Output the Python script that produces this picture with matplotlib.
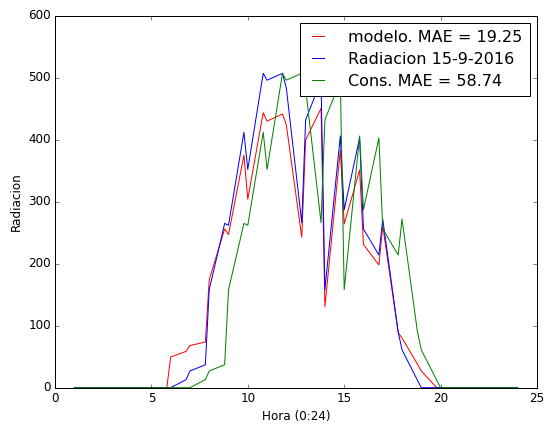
import matplotlib
matplotlib.use("Agg")
import matplotlib.pyplot as plt

plt.style.use("classic")

# Hour of day for each sample
hora = [1, 2, 3, 4, 5, 5.8, 6, 6.8, 7, 7.8, 8, 8.8, 9, 9.8, 10, 10.8, 11,
        11.8, 12, 12.8, 13, 13.8, 14, 14.8, 15, 15.8, 16, 16.8, 17, 17.8,
        18, 18.8, 19, 19.8, 20, 21, 22, 23, 24]

# Model prediction
modelo = [0, 0, 0, 0, 0, 0, 49.5, 58.6, 68, 73.6, 174, 256, 247, 375, 304,
          443.5, 430, 441.5, 423.7, 242.6, 399.5, 450.6, 130.6, 383, 264,
          351, 231, 198, 261, 89, 80, 38, 27, 0, 0, 0, 0, 0, 0]

# Measured radiation
radiacion = [0, 0, 0, 0, 0, 0, 0, 13, 27, 37, 158, 265, 262, 412, 352, 507,
             496, 507, 483, 266, 432, 495, 158, 406, 287, 403, 256, 214, 272,
             90, 61, 12, 0, 0, 0, 0, 0, 0, 0]

# Persistence forecast
cons = [0, 0, 0, 0, 0, 0, 0, 0, 0, 13, 27, 37, 158, 265, 262, 412, 352, 507,
        496, 507, 483, 266, 432, 495, 158, 406, 287, 403, 256, 214, 272, 90,
        61, 12, 0, 0, 0, 0, 0]

labels = ["modelo. MAE = 19.25", "Radiacion 15-9-2016", "Cons. MAE = 58.74"]

fig = plt.figure(figsize=(546 / 72, 430 / 72), dpi=72, facecolor="white")
ax = fig.add_axes([0.1007, 0.0984, 0.8828, 0.8651])

ax.plot(hora, modelo, color="r", lw=1.0, label=labels[0])
ax.plot(hora, radiacion, color="b", lw=1.0, label=labels[1])
ax.plot(hora, cons, color="g", lw=1.0, label=labels[2])

ax.set_xlim(0, 25)
ax.set_ylim(0, 600)
ax.set_xticks(range(0, 26, 5))
ax.set_yticks(range(0, 601, 100))
ax.set_xlabel("Hora (0:24)")
ax.set_ylabel("Radiacion")
ax.legend(loc="upper right", fontsize=16, handlelength=1.35,
          handletextpad=1.2, borderaxespad=0.45, labelspacing=0.42,
          borderpad=0.45)

fig.savefig("out.png", dpi=72, facecolor="white")
